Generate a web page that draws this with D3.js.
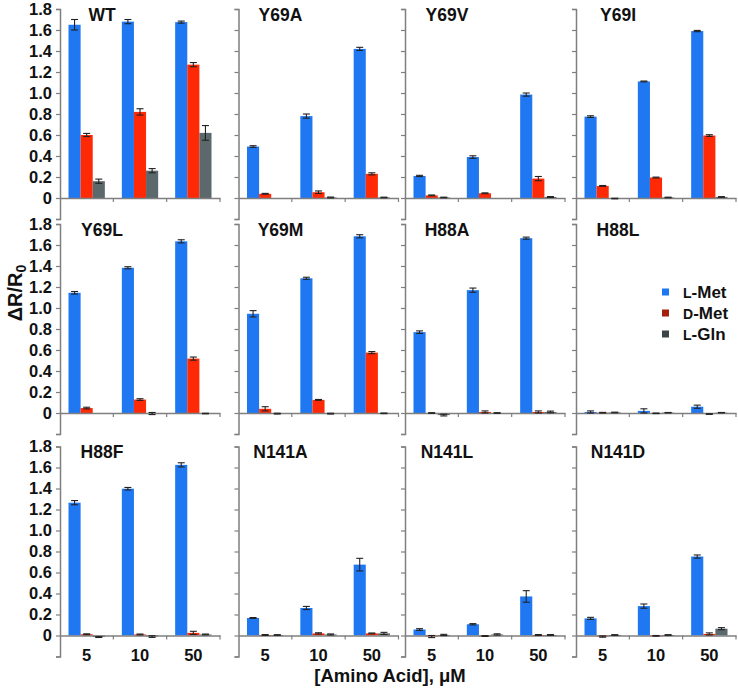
<!DOCTYPE html>
<html>
<head>
<meta charset="utf-8">
<script src="https://cdn.jsdelivr.net/npm/d3@7"></script>
<style>
  body { margin: 0; background: #fff; }
  svg { display: block; font-family: "Liberation Sans", Arial, sans-serif; }
</style>
</head>
<body>
<svg id="chart" width="738" height="694"></svg>
<script>
// ---- data ----
const panels = ["WT", "Y69A", "Y69V", "Y69I", "Y69L", "Y69M", "H88A", "H88L", "H88F", "N141A", "N141L", "N141D"];
const concentrations = ["5", "10", "50"];
const seriesNames = ["L-Met", "D-Met", "L-Gln"];
const yTicks = [0, 0.2, 0.4, 0.6, 0.8, 1.0, 1.2, 1.4, 1.6, 1.8];

const lMet = [
  [1.65, 1.68, 1.675], [0.49, 0.78, 1.42], [0.21, 0.39, 0.985], [0.775, 1.11, 1.59],
  [1.145, 1.383, 1.635], [0.945, 1.283, 1.683], [0.77, 1.17, 1.665], [0.01, 0.02, 0.06],
  [1.265, 1.398, 1.625], [0.167, 0.262, 0.675], [0.057, 0.107, 0.372], [0.163, 0.28, 0.752]
];
const lMetErr = [
  [0.05, 0.02, 0.01], [0.008, 0.02, 0.015], [0.006, 0.012, 0.015], [0.008, 0.004, 0.006],
  [0.012, 0.01, 0.015], [0.03, 0.01, 0.015], [0.012, 0.02, 0.01], [0.01, 0.02, 0.015],
  [0.02, 0.012, 0.02], [0.004, 0.015, 0.06], [0.008, 0.006, 0.055], [0.01, 0.02, 0.015]
];
const dMet = [
  [0.60, 0.82, 1.27], [0.04, 0.055, 0.23], [0.025, 0.045, 0.185], [0.115, 0.195, 0.595],
  [0.047, 0.128, 0.518], [0.04, 0.125, 0.575], [0.0, 0.01, 0.01], [0.003, -0.003, -0.01],
  [0.012, 0.01, 0.025], [0.005, 0.02, 0.02], [-0.01, -0.005, 0.005], [-0.01, -0.003, 0.015]
];
const dMetErr = [
  [0.015, 0.03, 0.02], [0.004, 0.012, 0.01], [0.004, 0.004, 0.02], [0.004, 0.004, 0.008],
  [0.008, 0.008, 0.015], [0.02, 0.004, 0.01], [0.003, 0.01, 0.01], [0.003, 0.003, 0.003],
  [0.004, 0.004, 0.015], [0.004, 0.006, 0.004], [0.01, 0.004, 0.004], [0.006, 0.003, 0.01]
];
const lGln = [
  [0.16, 0.26, 0.62], [0.0, 0.005, 0.005], [0.005, 0.0, 0.01], [-0.005, 0.005, 0.01],
  [0.0, -0.005, -0.005], [-0.006, -0.006, -0.003], [-0.02, 0.0, 0.01], [0.005, 0.003, 0.003],
  [-0.015, -0.01, 0.01], [0.005, 0.01, 0.02], [0.005, 0.01, 0.005], [0.005, 0.005, 0.065]
];
const lGlnErr = [
  [0.02, 0.02, 0.07], [0.0, 0.004, 0.003], [0.003, 0.0, 0.004], [0.003, 0.003, 0.003],
  [0.0, 0.01, 0.003], [0.004, 0.004, 0.003], [0.008, 0.003, 0.008], [0.003, 0.002, 0.002],
  [0.004, 0.008, 0.004], [0.003, 0.005, 0.01], [0.006, 0.006, 0.004], [0.003, 0.003, 0.01]
];

const seriesValues = [lMet, dMet, lGln];
const seriesErrors = [lMetErr, dMetErr, lGlnErr];
const barColors = ["#1f78f2", "#ff2a05", "#5b686c"];
const legendColors = ["#1f78f2", "#a4200e", "#3b4548"];

// ---- layout ----
const svg = d3.select("#chart");
const colX = [60, 238.5, 405, 576];
const rowTop = [9, 224, 446.5];
const plotH = 189;            // 0 .. 1.8
const unit = plotH / 1.8;
const innerW = 160;

const x = d3.scaleBand().domain(concentrations).range([0, innerW]);
const xs = d3.scaleBand().domain(seriesNames).range([8.5, x.bandwidth() - 8.5]);
const y = d3.scaleLinear().domain([-0.2, 1.8]).range([plotH + 0.2 * unit, 0]);

panels.forEach((name, p) => {
  const r = Math.floor(p / 4), c = p % 4;
  const g = svg.append("g").attr("transform", `translate(${colX[c]},${rowTop[r]})`);

  // bars
  seriesNames.forEach((s, si) => {
    const vals = seriesValues[si][p];
    concentrations.forEach((conc, ci) => {
      const v = vals[ci];
      const bx = x(conc) + xs(s);
      g.append("rect")
        .attr("x", bx)
        .attr("y", Math.min(y(v), y(0)))
        .attr("width", xs.bandwidth())
        .attr("height", Math.max(Math.abs(y(v) - y(0)), 1))
        .attr("fill", barColors[si]);
    });
  });

  // axes
  const yAxis = d3.axisLeft(y).tickValues([-0.2].concat(yTicks)).tickSize(4)
    .tickFormat(c === 0 ? (d => d < 0 ? "" : (d === 0 ? "0" : d3.format(".1f")(d))) : () => "");
  const ya = g.append("g").call(yAxis);
  ya.select(".domain").attr("stroke", "#7f7f7f").attr("stroke-width", 1.5);
  ya.selectAll(".tick line").attr("stroke", "#7f7f7f").attr("stroke-width", 1.2);
  ya.selectAll(".tick text").attr("font-size", 16.5).attr("font-weight", "bold").attr("fill", "#111").attr("x", -8)
    .attr("font-family", "'Liberation Sans', Arial, sans-serif");

  const xAxis = d3.axisBottom(x).tickSize(0).tickFormat(r === 2 ? (d => d) : () => "");
  const xa = g.append("g").attr("transform", `translate(0,${y(0)})`).call(xAxis);
  xa.select(".domain").attr("stroke", "#7f7f7f").attr("stroke-width", 1.5);
  xa.selectAll(".tick text").attr("font-size", 16.5).attr("font-weight", "bold").attr("fill", "#111").attr("dy", "1.35em")
    .attr("font-family", "'Liberation Sans', Arial, sans-serif");
  // boundary tick marks on x axis
  g.selectAll(".xb").data(concentrations).enter().append("line")
    .attr("x1", d => x(d) + x.bandwidth()).attr("x2", d => x(d) + x.bandwidth())
    .attr("y1", y(0)).attr("y2", y(0) + 4)
    .attr("stroke", "#7f7f7f").attr("stroke-width", 1.2);

  // error bars
  seriesNames.forEach((s, si) => {
    const vals = seriesValues[si][p], errs = seriesErrors[si][p];
    concentrations.forEach((conc, ci) => {
      const v = vals[ci], e = errs[ci];
      if (e <= 0) return;
      const cx = x(conc) + xs(s) + xs.bandwidth() / 2;
      const eg = g.append("g").attr("stroke", "#222").attr("stroke-width", 1.1);
      eg.append("line").attr("x1", cx).attr("x2", cx).attr("y1", y(v - e)).attr("y2", y(v + e));
      eg.append("line").attr("x1", cx - 3.5).attr("x2", cx + 3.5).attr("y1", y(v - e)).attr("y2", y(v - e));
      eg.append("line").attr("x1", cx - 3.5).attr("x2", cx + 3.5).attr("y1", y(v + e)).attr("y2", y(v + e));
    });
  });

  // title
  g.append("text").attr("x", 42).attr("y", 11.5).attr("text-anchor", "middle")
    .attr("font-size", 17.5).attr("font-weight", "bold").attr("fill", "#111").text(name);
});

// y axis label
const yl = svg.append("text")
  .attr("transform", "translate(22,293) rotate(-90)")
  .attr("text-anchor", "middle").attr("font-size", 20).attr("font-weight", "bold").attr("fill", "#111");
yl.append("tspan").text("ΔR/R");
yl.append("tspan").attr("font-size", 14).attr("dy", 4).text("0");

// x axis label
svg.append("text").attr("x", 390).attr("y", 682).attr("text-anchor", "middle")
  .attr("font-size", 18.5).attr("font-weight", "bold").attr("fill", "#111").text("[Amino Acid], μM");

// legend
const legY = [292, 313, 334];
seriesNames.forEach((s, i) => {
  svg.append("rect").attr("x", 662).attr("y", legY[i] - 3.5).attr("width", 7).attr("height", 7).attr("fill", legendColors[i]);
  const t = svg.append("text").attr("x", 683).attr("y", legY[i] + 6)
    .attr("font-size", 17).attr("font-weight", "bold").attr("fill", "#111");
  t.append("tspan").attr("font-size", 14).text(s.charAt(0));
  t.append("tspan").text(s.slice(1));
});
</script>
</body>
</html>
